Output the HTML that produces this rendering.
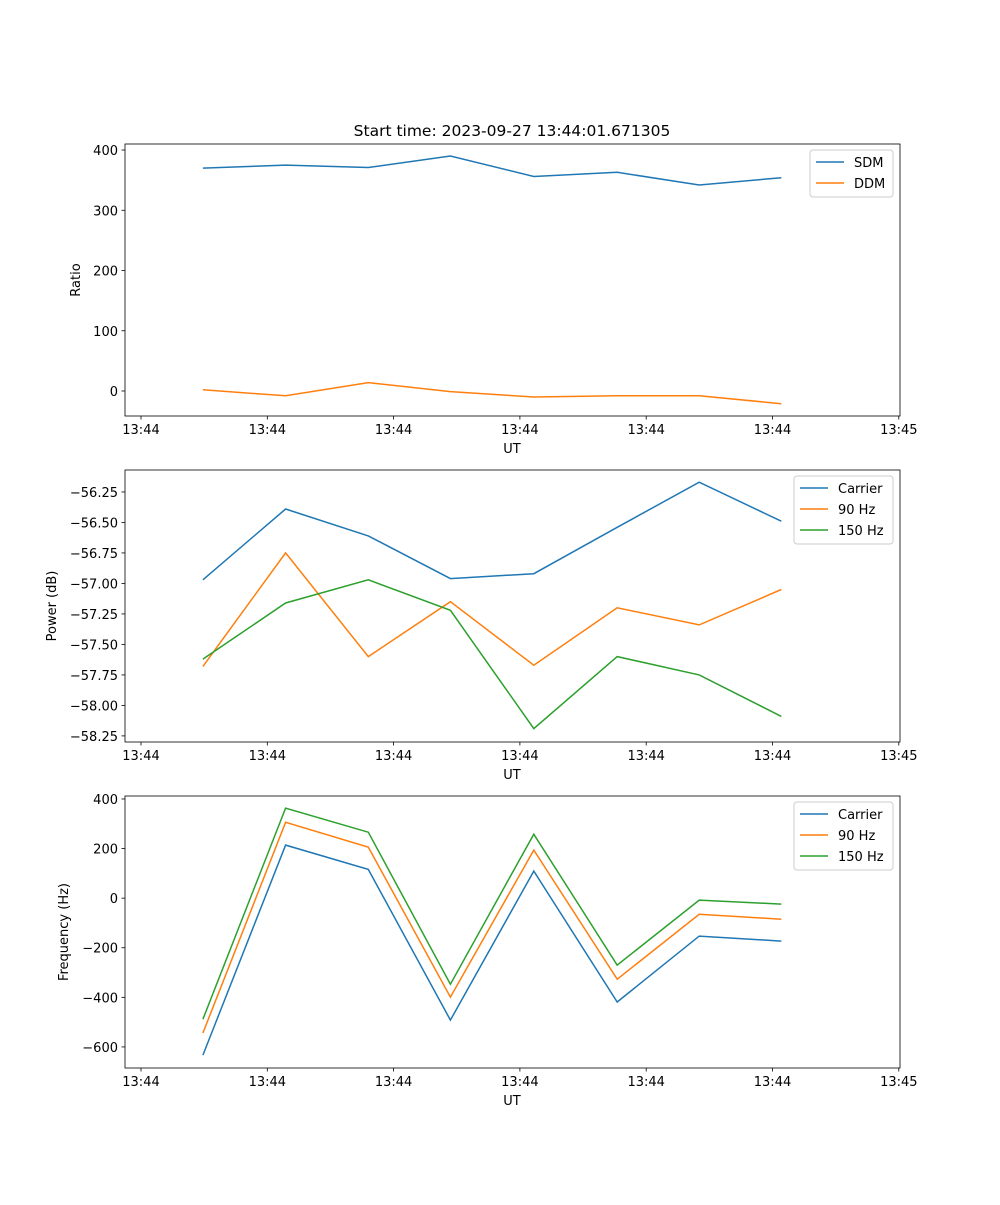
<!DOCTYPE html>
<html><head><meta charset="utf-8"><style>
body{margin:0;background:#fff}
svg text{font-family:"DejaVu Sans","Liberation Sans",sans-serif;font-size:13px;fill:#000}
</style></head><body>
<svg id="fig" width="1000" height="1200" xmlns="http://www.w3.org/2000/svg"></svg>
<script>
const times=[0.49,1.145,1.80,2.45,3.11,3.77,4.42,5.07];
const xTicks=[0,1,2,3,4,5,6];
const xTickLabels=["13:44","13:44","13:44","13:44","13:44","13:44","13:45"];
const sdm=[370,375,371,390,356,363,342,354];
const ddm=[2,-8,14,-1,-10,-8,-8,-21];
const pCarrier=[-56.97,-56.39,-56.61,-56.96,-56.92,-56.54,-56.17,-56.49];
const p90=[-57.68,-56.75,-57.60,-57.15,-57.67,-57.20,-57.34,-57.05];
const p150=[-57.62,-57.16,-56.97,-57.22,-58.19,-57.60,-57.75,-58.09];
const fCarrier=[-633,214,116,-492,109,-419,-153,-173];
const f90=[-544,306,206,-399,194,-327,-65,-85];
const f150=[-488,363,266,-347,258,-270,-8,-24];
const ticks1=[400,300,200,100,0];
const ticks2=[-56.25,-56.5,-56.75,-57,-57.25,-57.5,-57.75,-58,-58.25];
const ticks3=[400,200,0,-200,-400,-600];
const ns="http://www.w3.org/2000/svg";
const svg=document.getElementById('fig');
function mk(t,a,p){const e=document.createElementNS(ns,t);for(const k in a)e.setAttribute(k,a[k]);(p||svg).appendChild(e);return e;}
const L=125,R=900;
const xs=t=>141+t*126.3;
const T=mk('text',{x:512,y:136,'text-anchor':'middle',style:'font-size:15.5px'});
T.textContent='Start time: 2023-09-27 13:44:01.671305';


const colors=['#1f77b4','#ff7f0e','#2ca02c'];
function panel(name,top,ymin,ymax,yt,ylabel,series,labels,fmt,leg){
  const bot=top+272;
  const g=mk('g',{});
  
  
  const ys=v=>bot-(v-ymin)/(ymax-ymin)*272;
  series.forEach((s,i)=>{
    const pts=s.map((v,j)=>xs(times[j]).toFixed(1)+','+ys(v).toFixed(1)).join(' ');
    const pl=mk('polyline',{points:pts,fill:'none',stroke:colors[i],'stroke-width':1.5},g);
    
    
  });
  mk('rect',{x:L,y:top,width:R-L,height:272,fill:'none',stroke:'#000','stroke-width':0.8},g);
  xTicks.forEach((t,i)=>{
    const x=xs(t);
    mk('line',{x1:x,x2:x,y1:bot,y2:bot+3.5,stroke:'#000','stroke-width':0.8},g);
    const tx=mk('text',{x:x,y:bot+18,'text-anchor':'middle'},g);tx.textContent=xTickLabels[i];
    
    
  });
  yt.forEach(v=>{
    const y=ys(v);
    mk('line',{x1:L-3.5,x2:L,y1:y,y2:y,stroke:'#000','stroke-width':0.8},g);
    const tx=mk('text',{x:L-7,y:y+5,'text-anchor':'end'},g);tx.textContent=fmt(v);
    
    
  });
  const xl=mk('text',{x:512,y:bot+37,'text-anchor':'middle'},g);xl.textContent='UT';
  
  
  const yx=leg.yl;
  const yl=mk('text',{x:yx,y:top+136,'text-anchor':'middle',transform:`rotate(-90 ${yx} ${top+136})`},g);yl.textContent=ylabel;
  
  
  const lg=mk('g',{},g);
  
  
  const h=5+labels.length*21;
  mk('rect',{x:leg.x,y:top+6,width:893-leg.x,height:h,rx:3,fill:'#fff',stroke:'#ccc','stroke-width':1},lg);
  labels.forEach((lb,i)=>{
    const y=top+18+i*21;
    mk('line',{x1:leg.x+6,x2:leg.x+34,y1:y,y2:y,stroke:colors[i],'stroke-width':1.5},lg);
    const tx=mk('text',{x:leg.x+44,y:y+5},lg);tx.textContent=lb;
    
    
  });
}
panel('ratio-panel',144,-41.5,410,ticks1,'Ratio',[sdm,ddm],['SDM','DDM'],v=>String(v),{x:810,yl:80});
panel('power-panel',470,-58.30,-56.07,ticks2,'Power (dB)',[pCarrier,p90,p150],['Carrier','90 Hz','150 Hz'],v=>(v<0?'\u2212':'')+Math.abs(v).toFixed(2),{x:794,yl:56});
panel('frequency-panel',796,-685,412,ticks3,'Frequency (Hz)',[fCarrier,f90,f150],['Carrier','90 Hz','150 Hz'],v=>(v<0?'\u2212':'')+Math.abs(v),{x:794,yl:68});
</script>
</body></html>
